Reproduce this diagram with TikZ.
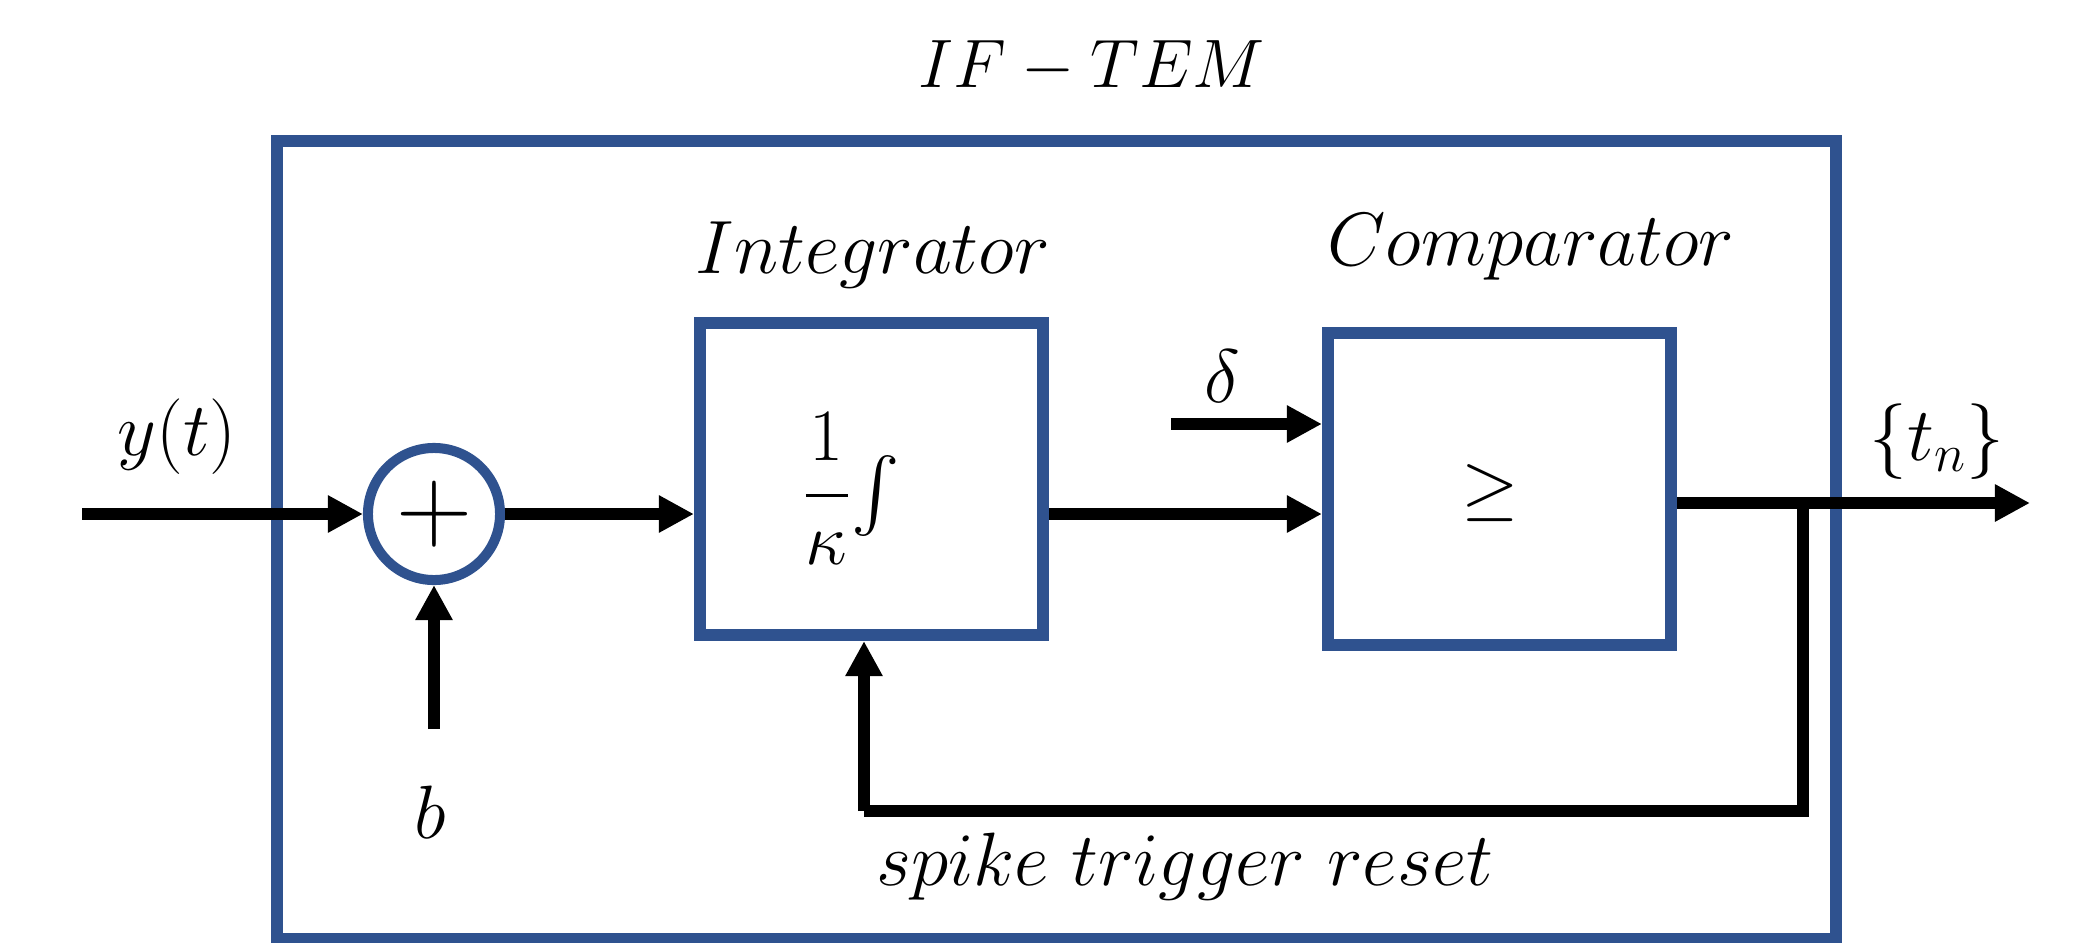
\RequirePackage{fix-cm}
\documentclass[tikz,border=0pt]{standalone}
\usepackage{amsmath}
\usetikzlibrary{arrows.meta,calc}
\definecolor{frameblue}{RGB}{47,82,143}
\begin{document}
\begin{tikzpicture}[x=0.01cm,y=-0.01cm,
  blockbox/.style={draw=frameblue,line width=3.4pt,minimum width=3.43cm,minimum height=3.12cm,inner sep=0pt},
  sumnode/.style={circle,draw=frameblue,line width=2.85pt,minimum size=1.32cm,inner sep=0pt,font=\fontsize{30}{34}\selectfont},
  flow/.style={line width=3.4pt,-{Triangle[length=10pt,width=10pt]}},
  wire/.style={line width=3.4pt},
  lbl/.style={font=\fontsize{21.5}{25}\selectfont,inner sep=0pt,anchor=base}]
\useasboundingbox (0,0) rectangle (2075,942);

% outer frame of the encoder
\node[draw=frameblue,line width=3.4pt,minimum width=15.59cm,minimum height=7.98cm,inner sep=0pt] (frame) at (1056.5,540) {};

% blocks
\node[sumnode] (sum) at (434,514) {$+$};
\node[blockbox] (integ) at (871.5,479) {};
\node[blockbox] (comp) at (1499.5,489) {};

% block contents
\node[font=\fontsize{21}{25}\selectfont,inner sep=0pt] (gain) at (851,489)
  {$\dfrac{1\rule[-7pt]{0pt}{0pt}}{\rule{0pt}{13pt}\kappa}{\textstyle\int}$};
\node[font=\fontsize{21}{25}\selectfont,inner sep=0pt] (geq) at (1490,493) {$\geq$};

% labels
\node[lbl,font=\fontsize{19.5}{23}\selectfont] (title) at (1092,87) {$IF-TEM$};
\node[lbl] (intlabel) at (873,273) {$Integrator$};
\node[lbl] (complabel) at (1531,265) {$Comparator$};
\node[lbl] (ylabel) at (177,455) {$y(t)$};
\node[lbl] (blabel) at (430,838) {$b$};
\node[lbl] (dlabel) at (1222,402) {$\delta$};
\node[lbl] (tlabel) at (1937,460) {$\{t_n\}$};
\node[lbl] (resetlabel) at (1185,885) {$spike\ trigger\ reset$};

% free ends of the connectors
\coordinate (yin) at (82,514);
\coordinate (bin) at (434,729);
\coordinate (din) at (1171,424);
\coordinate (tap) at (1803,503);
\coordinate (tout) at (2030,503);
\coordinate (fbcorner) at (864,811);

% connectors
\draw[flow] (yin) -- (sum.west);
\draw[flow] (bin) -- (sum.south);
\draw[flow] (sum.east) -- (sum.east -| integ.west);
\draw[flow] (integ.east |- sum.east) -- (comp.west |- sum.east);
\draw[flow] (din) -- (din -| comp.west);
\draw[flow] (tap -| comp.east) -- (tout);
\draw[wire] (tap) |- (fbcorner);
\draw[flow] (fbcorner) -- (fbcorner |- integ.south);
\end{tikzpicture}
\end{document}
